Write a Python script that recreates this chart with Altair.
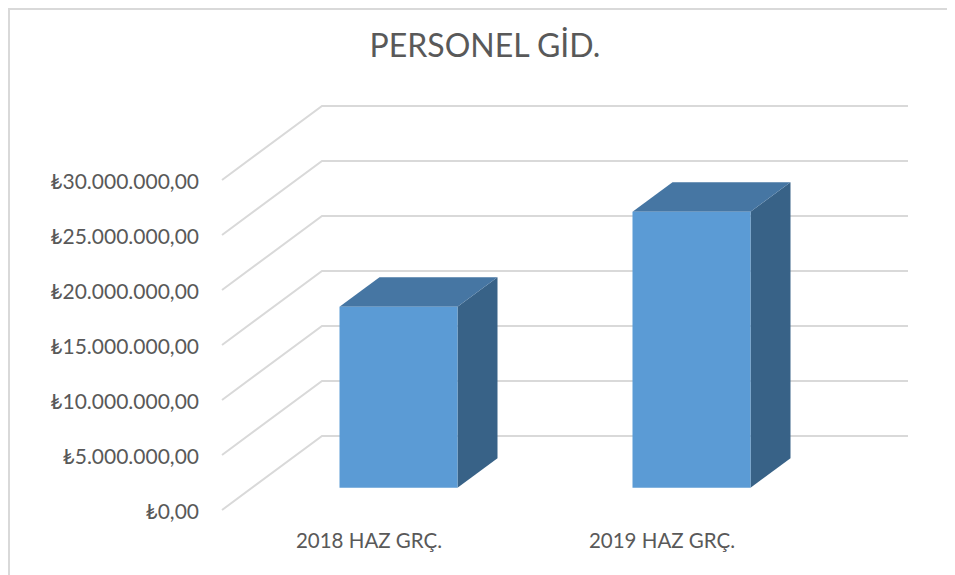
import altair as alt
import pandas as pd

# --- data ---
categories = ["2018 HAZ GRÇ.", "2019 HAZ GRÇ."]
values = [16450000, 25090000]
tick_values = [0, 5000000, 10000000, 15000000, 20000000, 25000000, 30000000]
tick_labels = ["₺0,00", "₺5.000.000,00", "₺10.000.000,00", "₺15.000.000,00",
               "₺20.000.000,00", "₺25.000.000,00", "₺30.000.000,00"]
title_text = "PERSONEL GİD."

# --- oblique projection of the 3-D chart (depth 0 = front of floor, 1 = back wall) ---
DEPTH_X = 100 / 293          # category units per full depth
DEPTH_Y = 5000000 * 74 / 55  # value units per full depth
BAR_W = 118 / 293
D_FRONT, D_BACK = 0.3, 0.7
X_MAX = 2 + DEPTH_X
Y_MAX = 30000000 + DEPTH_Y

FONT = "Lato"
TEXT = "#595959"
GRID = "#d9d9d9"
FRONT = "#5b9bd5"
TOP = "#4676a3"
SIDE = "#386287"

x_scale = alt.Scale(domain=[0, X_MAX], nice=False, zero=False)
y_scale = alt.Scale(domain=[0, Y_MAX], nice=False, zero=False)


def px(cat, d):
    return cat + d * DEPTH_X


def py(v, d):
    return v + d * DEPTH_Y


grid_rows, front_rows, side_rows, top_rows = [], [], [], []
for t in tick_values:
    for order, (c, d) in enumerate([(0, 0), (0, 1), (2, 1)]):
        grid_rows.append({"tick": t, "order": order, "x": px(c, d), "y": py(t, d)})

for i, (name, v) in enumerate(zip(categories, values)):
    left = i + 0.5 - BAR_W / 2
    right = i + 0.5 + BAR_W / 2
    front_rows.append({"cat": name, "x": px(left, D_FRONT), "x2": px(right, D_FRONT),
                       "y": py(0, D_FRONT), "y2": py(v, D_FRONT)})
    for d in (D_FRONT, D_BACK):
        side_rows.append({"cat": name, "x": px(right, d), "y": py(0, d), "y2": py(v, d)})
        top_rows.append({"cat": name, "y": py(v, d), "x": px(left, d), "x2": px(right, d)})

label_expr_y = "[" + ",".join(f"'{s}'" for s in tick_labels) + "][round(datum.value/5000000)]"
label_expr_x = "[" + ",".join(f"'{s}'" for s in categories) + "][floor(datum.value)]"

grid = alt.Chart(pd.DataFrame(grid_rows)).mark_line(
    color=GRID, strokeWidth=2, interpolate="linear"
).encode(
    x=alt.X("x:Q", scale=x_scale, title=None,
            axis=alt.Axis(values=[0.5, 1.5], labelExpr=label_expr_x, domain=False, ticks=False,
                          grid=False, labelPadding=21, labelOffset=0, labelFontSize=20.5, labelFont=FONT,
                          labelColor=TEXT, labelAlign="center", labelBaseline="top")),
    y=alt.Y("y:Q", scale=y_scale, title=None,
            axis=alt.Axis(values=tick_values, labelExpr=label_expr_y, domain=False, ticks=False,
                          grid=False, labelPadding=23.5, labelOffset=2.5, labelFontSize=21, labelFont=FONT,
                          labelColor=TEXT)),
    detail="tick:N",
    order="order:Q",
)

side = alt.Chart(pd.DataFrame(side_rows)).mark_area(color=SIDE, opacity=1, orient="vertical").encode(
    x=alt.X("x:Q", scale=x_scale), y=alt.Y("y:Q", scale=y_scale), y2="y2:Q", detail="cat:N"
)
top = alt.Chart(pd.DataFrame(top_rows)).mark_area(color=TOP, opacity=1, orient="horizontal").encode(
    y=alt.Y("y:Q", scale=y_scale), x=alt.X("x:Q", scale=x_scale), x2="x2:Q", detail="cat:N"
)
front = alt.Chart(pd.DataFrame(front_rows)).mark_rect(color=FRONT, opacity=1).encode(
    x=alt.X("x:Q", scale=x_scale), x2="x2:Q", y=alt.Y("y:Q", scale=y_scale), y2="y2:Q"
)

# chart frame (left and top edges of the picture)
frame_left = alt.Chart(pd.DataFrame({"k": [0]})).mark_rule(color=GRID, strokeWidth=2).encode(
    x=alt.value(-213), y=alt.value(-98), y2=alt.value(470)
)
frame_top = alt.Chart(pd.DataFrame({"k": [0]})).mark_rule(color=GRID, strokeWidth=2).encode(
    x=alt.value(-214), x2=alt.value(725), y=alt.value(-97)
)

chart = alt.layer(frame_left, frame_top, grid, side, top, front).properties(
    width=686,
    height=404,
    padding={"left": 214, "top": 98, "right": 39, "bottom": 65},
    autosize=alt.AutoSizeParams(type="none"),
    background="white",
    title=alt.TitleParams(title_text, font=FONT, fontSize=32, fontWeight="normal", color=TEXT,
                          anchor="middle", frame="group", dx=-80, offset=0, dy=57),
).configure_view(stroke=None)

chart.save("out.html", embed_options={"renderer": "svg", "actions": False})
